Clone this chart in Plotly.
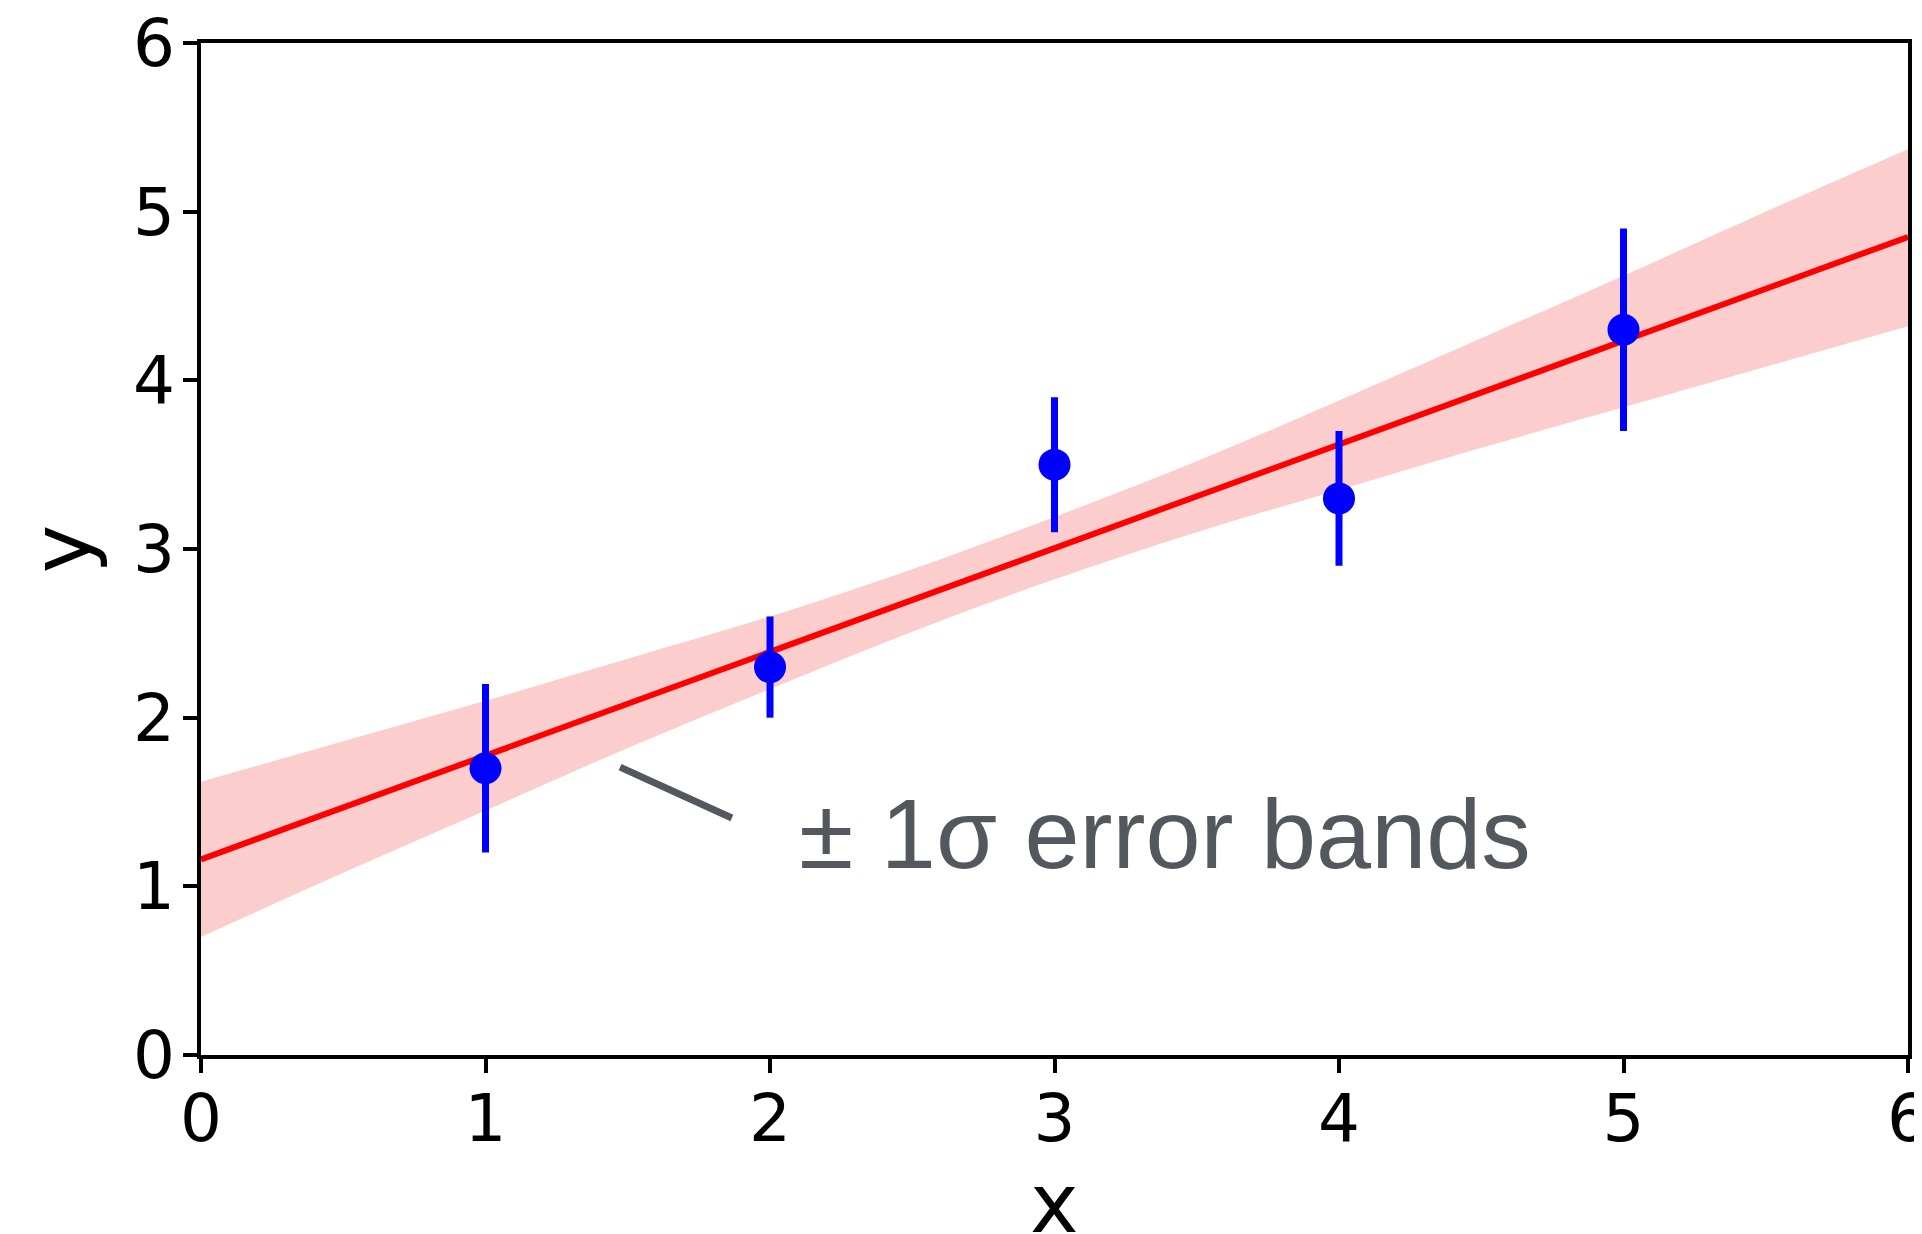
import plotly.graph_objects as go

# Measured data points with symmetric 1-sigma errors
x_data = [1, 2, 3, 4, 5]
y_data = [1.7, 2.3, 3.5, 3.3, 4.3]
y_err = [0.5, 0.3, 0.4, 0.4, 0.6]

# Fitted line (read at the plot edges)
fit_x = [0, 6]
fit_y = [1.16, 4.85]

# +/- 1 sigma band
band_x = [0, 0.5, 1, 1.5, 2, 2.5, 3, 3.5, 4, 4.5, 5, 5.5, 6]
band_upper = [1.62, 1.86, 2.10, 2.35, 2.60, 2.88, 3.19, 3.52, 3.88, 4.25, 4.62, 5.00, 5.37]
band_lower = [0.70, 1.08, 1.45, 1.82, 2.17, 2.51, 2.82, 3.10, 3.35, 3.60, 3.84, 4.08, 4.32]

# Axis ticks
tick_vals = [0, 1, 2, 3, 4, 5, 6]
tick_text = ["0", "1", "2", "3", "4", "5", "6"]

# Annotation
note_text = "± 1σ error bands"
note_pos = [2.10, 1.316]
pointer_x = [1.473, 1.866]
pointer_y = [1.707, 1.405]

GRAY = "#53575e"

fig = go.Figure()

fig.add_trace(go.Scatter(
    x=band_x, y=band_lower, mode="lines",
    line=dict(width=0, shape="spline", color="rgba(255,0,0,0)"),
    showlegend=False, hoverinfo="skip"))
fig.add_trace(go.Scatter(
    x=band_x, y=band_upper, mode="lines", fill="tonexty",
    fillcolor="rgba(252,205,205,1)",
    line=dict(width=0, shape="spline", color="rgba(255,0,0,0)"),
    showlegend=False, hoverinfo="skip"))

fig.add_trace(go.Scatter(
    x=fit_x, y=fit_y, mode="lines",
    line=dict(color="#ff0000", width=6),
    showlegend=False))

fig.add_trace(go.Scatter(
    x=x_data, y=y_data, mode="markers",
    marker=dict(color="#0000ff", size=32, line=dict(width=0)),
    error_y=dict(type="data", array=y_err, visible=True,
                 color="#0000ff", thickness=7, width=0),
    showlegend=False))

fig.add_shape(type="line", xref="x", yref="y",
              x0=pointer_x[0], y0=pointer_y[0], x1=pointer_x[1], y1=pointer_y[1],
              line=dict(color=GRAY, width=7), layer="above")

fig.add_annotation(x=note_pos[0], y=note_pos[1], xref="x", yref="y",
                   text=note_text, showarrow=False,
                   xanchor="left", yanchor="middle", borderpad=0,
                   font=dict(family="Liberation Sans, Arial, sans-serif",
                             size=99, color=GRAY))

# x-axis title (partly cut off by the bottom edge, as in the reference)
fig.add_annotation(x=0.5, y=-0.099, xref="paper", yref="paper",
                   text="x", showarrow=False,
                   xanchor="center", yanchor="top", borderpad=0,
                   font=dict(family="DejaVu Sans", size=82, color="black"))

axis_common = dict(
    showline=True, linecolor="black", linewidth=3.5, mirror=True,
    ticks="outside", ticklen=14, tickwidth=3.5, tickcolor="black",
    showgrid=False, zeroline=False,
    tickvals=tick_vals, ticktext=tick_text,
    ticklabeloverflow="allow",
    tickfont=dict(family="DejaVu Sans", size=66, color="black"),
)

fig.update_xaxes(range=[0, 6], ticklabelstandoff=-11, **axis_common)
fig.update_yaxes(range=[0, 6], ticklabelstandoff=-5,
                 title=dict(text="y", standoff=16,
                            font=dict(family="DejaVu Sans", size=82, color="black")),
                 **axis_common)

fig.update_layout(
    width=1914, height=1226,
    margin=dict(l=193, r=14, t=35, b=179, autoexpand=False),
    paper_bgcolor="white", plot_bgcolor="white",
)

fig.write_html("out.html")
